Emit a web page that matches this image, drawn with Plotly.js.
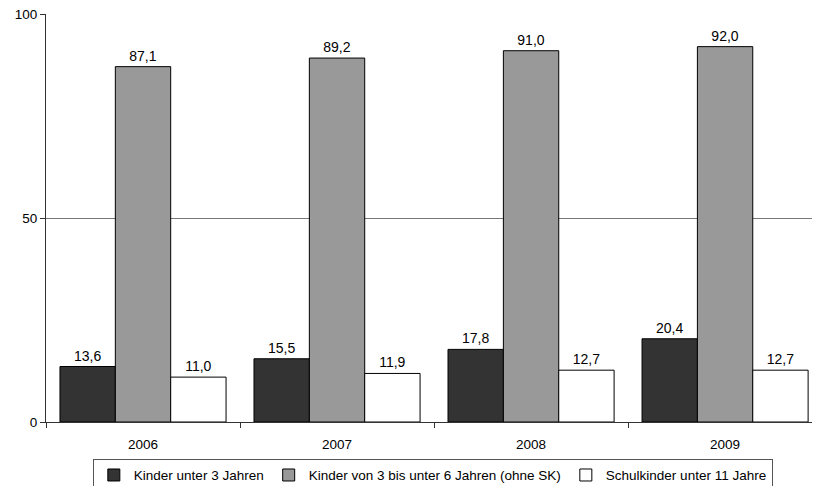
<!DOCTYPE html>
<html>
<head>
<meta charset="utf-8">
<script src="https://cdn.plot.ly/plotly-3.0.1.min.js"></script>
<style>html,body{margin:0;padding:0;background:#fff;}#chart{width:813px;height:486px;}</style>
</head>
<body>
<div id="chart"></div>
<script>
const years = ["2006", "2007", "2008", "2009"];
const seriesNames = ["Kinder unter 3 Jahren", "Kinder von 3 bis unter 6 Jahren (ohne SK)", "Schulkinder unter 11 Jahre"];
const under3 = [13.6, 15.5, 17.8, 20.4];
const age3to6 = [87.1, 89.2, 91.0, 92.0];
const school = [11.0, 11.9, 12.7, 12.7];
const colors = ["#333333", "#999999", "#ffffff"];
const yTicks = [0, 50, 100];

const allValues = [under3, age3to6, school];
const traces = allValues.map((vals, i) => ({
  type: "bar",
  name: seriesNames[i],
  x: years,
  y: vals,
  marker: {color: colors[i], line: {color: "#000000", width: 1}},
  texttemplate: "%{y:.1f}",
  textposition: "outside",
  cliponaxis: false,
  textfont: {family: "Liberation Sans, Arial, sans-serif", size: 14, color: "#000000"},
  hoverinfo: "skip"
}));

const layout = {
  width: 813,
  height: 486,
  margin: {l: 46, r: 1, t: 14, b: 64, autoexpand: false},
  paper_bgcolor: "#ffffff",
  plot_bgcolor: "#ffffff",
  separators: ",.",
  barmode: "group",
  bargap: 0.144,
  bargroupgap: 0,
  font: {family: "Liberation Sans, Arial, sans-serif", size: 13.5, color: "#000000"},
  showlegend: true,
  legend: {
    orientation: "h",
    x: 0.505,
    xanchor: "center",
    y: -0.09,
    yanchor: "top",
    bordercolor: "#555555",
    borderwidth: 1,
    itemwidth: 30,
    font: {size: 13.5, color: "#000000"},
    traceorder: "normal"
  },
  xaxis: {
    type: "category",
    range: [-0.5, 3.448],
    showline: true,
    linecolor: "#333333",
    linewidth: 1,
    ticks: "outside",
    tickson: "boundaries",
    ticklen: 5,
    tickcolor: "#333333",
    ticklabelstandoff: 10,
    showgrid: false,
    tickfont: {size: 13.5, color: "#000000"},
    fixedrange: true
  },
  yaxis: {
    range: [0, 100],
    tickvals: yTicks,
    ticktext: yTicks.map(String),
    showline: true,
    linecolor: "#333333",
    linewidth: 1,
    ticks: "outside",
    ticklen: 5,
    tickcolor: "#333333",
    showgrid: true,
    gridcolor: "#777777",
    gridwidth: 1,
    zeroline: false,
    tickfont: {size: 13.5, color: "#000000"},
    fixedrange: true
  }
};

Plotly.newPlot("chart", traces, layout, {displayModeBar: false, staticPlot: true});
</script>
</body>
</html>
